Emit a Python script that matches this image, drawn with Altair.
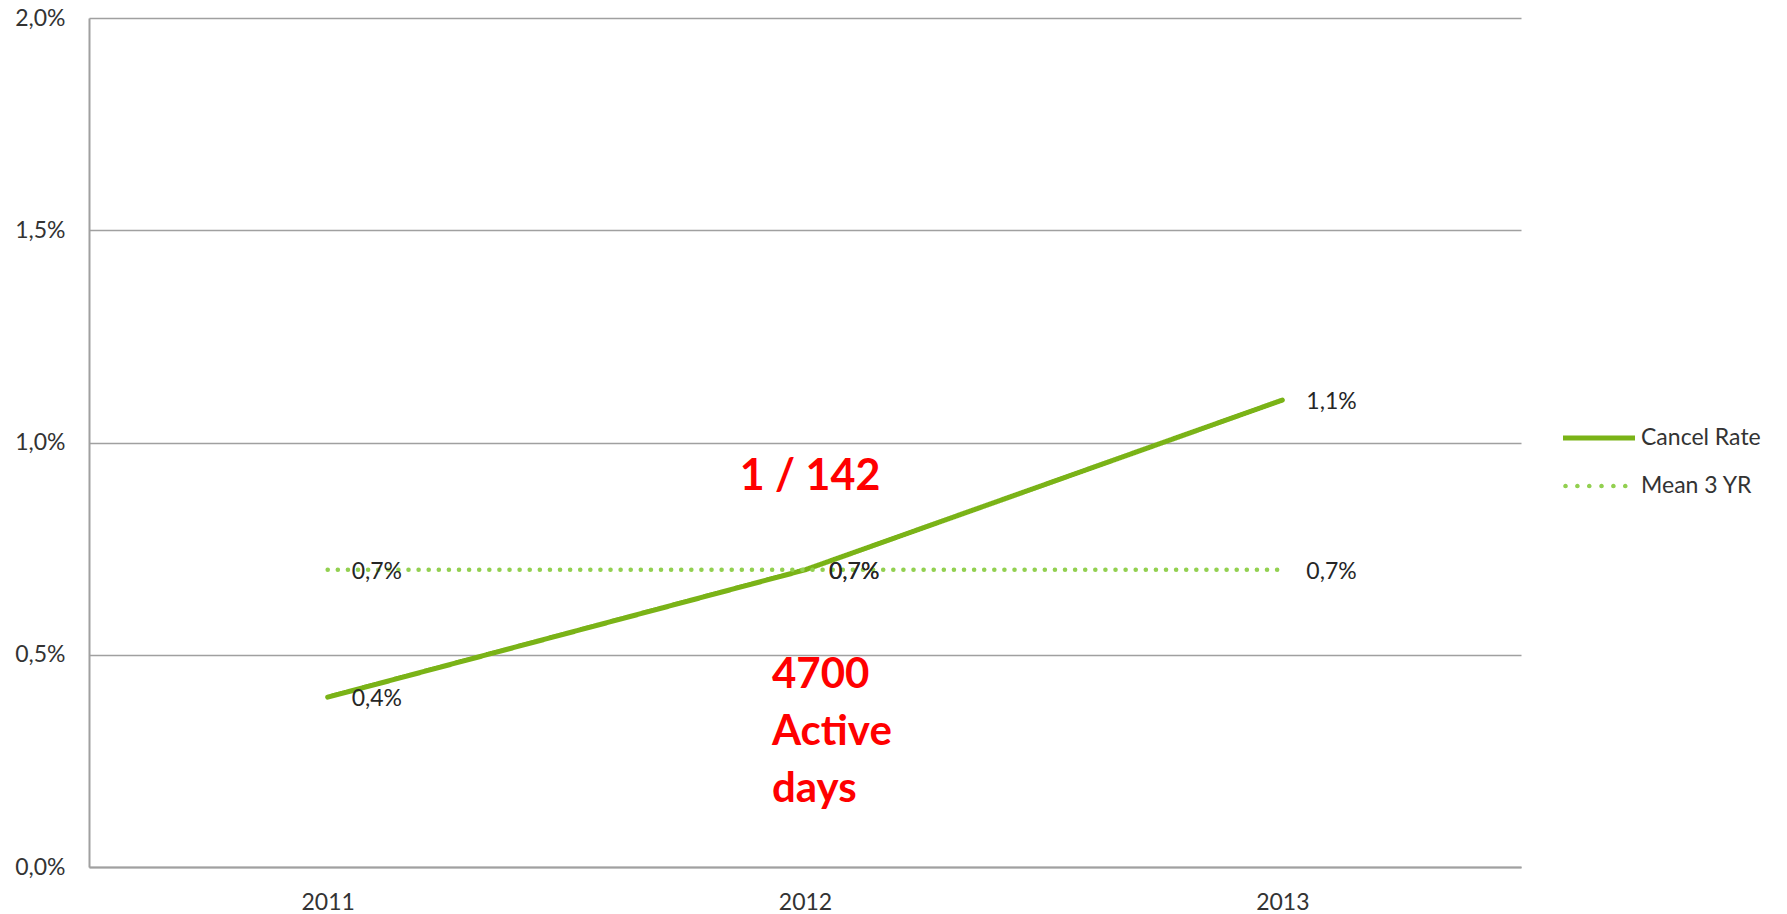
import altair as alt
import pandas as pd

years = ["2011", "2012", "2013"]
cancel_rate = [0.004, 0.007, 0.011]
mean_3yr = [0.007, 0.007, 0.007]
series_names = ["Cancel Rate", "Mean 3 YR"]
y_ticks = [0.0, 0.005, 0.010, 0.015, 0.020]

ann_year = ["2012", "2012"]
ann_value = [0.00918, 0.00452]
ann_text = [["1 / 142"], ["4700", "Active", "days"]]

rows = []
for y, v in zip(years, cancel_rate):
    rows.append({"year": y, "value": v, "series": series_names[0]})
for y, v in zip(years, mean_3yr):
    rows.append({"year": y, "value": v, "series": series_names[1]})
df = pd.DataFrame(rows)

ann = pd.DataFrame({"year": ann_year, "value": ann_value, "text": ann_text})

FONT = "Lato"
TXT = "#333333"
GRID = "#a0a0a0"
FS = 23
COLORS = ["#7ab317", "#92d050"]

# legend symbol glyphs (unit space, scaled by the legend symbol size)
solid_glyph = "M-1,-0.07L1,-0.07L1,0.07L-1,0.07Z"
dot_r = 0.064
dot_glyph = " ".join(
    f"M{cx - dot_r:.3f},0a{dot_r},{dot_r} 0 1,0 {2 * dot_r:.3f},0a{dot_r},{dot_r} 0 1,0 {-2 * dot_r:.3f},0"
    for cx in [-0.93, -0.6, -0.27, 0.07, 0.4, 0.73]
)

x = alt.X("year:N", sort=years, title=None,
          scale=alt.Scale(paddingInner=0, paddingOuter=0.5),
          axis=alt.Axis(labelAngle=0, ticks=False, grid=False, domainColor=GRID, domainWidth=2,
                        labelFont=FONT, labelFontSize=FS, labelColor=TXT, labelPadding=24))
y = alt.Y("value:Q", title=None,
          scale=alt.Scale(domain=[0, 0.02], nice=False, zero=True),
          axis=alt.Axis(values=y_ticks, ticks=False, grid=True, gridColor=GRID, gridWidth=1.5,
                        domainColor=GRID, domainWidth=2,
                        labelExpr="replace(format(datum.value, '.1%'), '.', ',')",
                        labelFont=FONT, labelFontSize=FS, labelColor=TXT, labelPadding=24))

# line styling scales (domain from data, so they are not merged with the legend below)
color = alt.Color("series:N", sort="ascending", scale=alt.Scale(range=COLORS), legend=None)
dash = alt.StrokeDash("series:N", sort="ascending",
                      scale=alt.Scale(range=[[1, 0], [0.1, 10]]), legend=None)
sw = alt.StrokeWidth("series:N", sort="ascending",
                     scale=alt.Scale(range=[5, 4.5]), legend=None)

lines = alt.Chart(df).mark_line(strokeCap="round").encode(
    x=x, y=y, color=color, strokeDash=dash, strokeWidth=sw)

leg = alt.Legend(title=None, orient="none", legendX=1474, legendY=384,
                 symbolSize=5184, symbolOpacity=1, symbolStrokeWidth=0,
                 labelFont=FONT, labelFontSize=FS, labelColor=TXT,
                 labelOffset=6, rowPadding=-4)

legend_layer = alt.Chart(df).mark_point(filled=True, size=5184, opacity=0).encode(
    x=alt.X("year:N", sort=years),
    y="value:Q",
    fill=alt.Fill("series:N", sort=series_names,
                  scale=alt.Scale(domain=series_names, range=COLORS), legend=leg),
    shape=alt.Shape("series:N", sort=series_names,
                    scale=alt.Scale(domain=series_names, range=[solid_glyph, dot_glyph]),
                    legend=leg),
)

labels = alt.Chart(df).mark_text(align="left", baseline="middle", dx=24, dy=2,
                                 font=FONT, fontSize=FS, color="#262626").encode(
    x=alt.X("year:N", sort=years),
    y="value:Q",
    text=alt.Text("label:N")
).transform_calculate(label="replace(format(datum.value, '.1%'), '.', ',')")

ann1 = alt.Chart(ann.iloc[[0]]).mark_text(align="center", baseline="middle", dx=5,
                                           font=FONT, fontSize=43, fontWeight="bold",
                                           color="#ff0000").encode(
    x=alt.X("year:N", sort=years), y="value:Q", text="text")
ann2 = alt.Chart(ann.iloc[[1]]).mark_text(align="left", baseline="middle", dx=-33,
                                           font=FONT, fontSize=42, fontWeight="bold",
                                           lineHeight=57, color="#ff0000").encode(
    x=alt.X("year:N", sort=years), y="value:Q", text="text")

chart = alt.layer(lines, legend_layer, labels, ann1, ann2).properties(
    width=1432, height=849,
    background="white",
    autosize=alt.AutoSizeParams(type="none"),
    padding={"left": 89, "top": 18, "right": 266, "bottom": 47}
).configure_view(strokeWidth=0)

chart.save("out.html", embed_options={"renderer": "svg", "actions": False})
